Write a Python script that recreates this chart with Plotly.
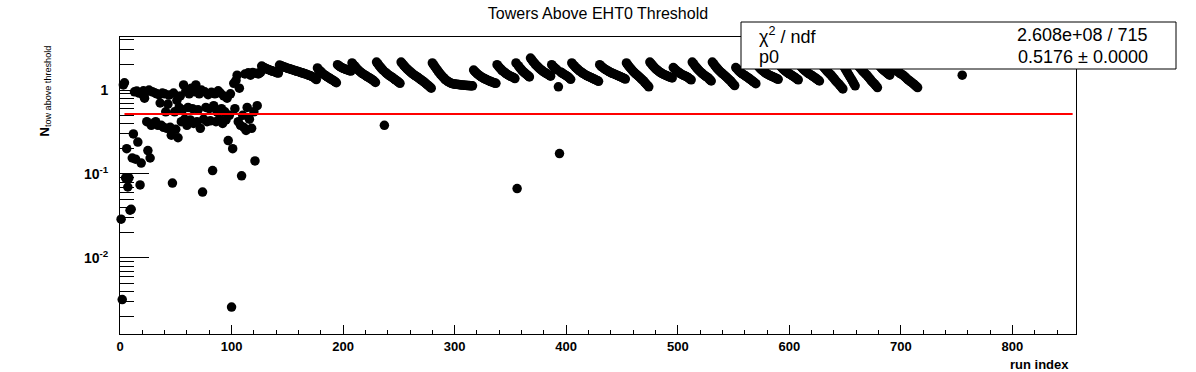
import plotly.graph_objects as go

# ---------------- data ----------------
# early runs (run index 1..125), one value per run
early_runs = list(range(1, 126))
early_vals = [
    0.029, 0.0032, 1.15, 1.22, 0.09, 0.2, 0.07, 0.09, 0.037, 0.038,
    0.155, 0.3, 0.95, 0.15, 0.97, 0.24, 0.92, 0.074, 0.135, 0.9,
    0.98, 0.8, 0.95, 0.42, 0.19, 1.0, 0.155, 0.38, 0.95, 0.4,
    0.93, 0.42, 0.9, 0.38, 0.88, 0.7, 0.38, 0.92, 0.36, 0.9,
    0.55, 0.35, 0.68, 0.87, 0.36, 0.29, 0.078, 0.92, 0.55, 0.34,
    0.75, 0.27, 0.62, 0.85, 0.42, 0.58, 1.15, 0.45, 0.97, 0.38,
    0.62, 0.9, 0.44, 1.05, 0.6, 0.4, 0.95, 1.15, 0.42, 0.58,
    0.9, 0.35, 1.0, 0.061, 0.45, 0.95, 0.62, 0.42, 0.88, 0.6,
    0.43, 0.94, 0.11, 0.65, 0.9, 0.42, 0.55, 0.98, 0.45, 0.92,
    0.6, 0.4, 0.85, 0.55, 0.44, 0.8, 0.25, 0.5, 0.9, 0.0026,
    0.2, 1.2, 0.6, 1.3, 1.5, 0.42, 1.05, 0.38, 0.095, 0.5,
    0.36, 1.55, 0.33, 0.62, 1.6, 0.45, 1.5, 0.35, 1.62, 0.55,
    0.143, 1.58, 0.65, 1.55, 1.6,
]

# later runs grouped by fill: first run index of each fill and its values
fill_start = [126, 143, 177, 195, 208, 230, 252, 280, 317, 338, 355, 368, 387,
              405, 430, 454, 475, 496, 513, 531, 552, 571, 591, 609, 628, 649,
              660, 680, 691]
fill_vals = [
    [1.62, 1.93, 1.88, 1.85, 1.82, 1.8, 1.77, 1.75, 1.73, 1.71, 1.69, 1.67, 1.66, 1.64, 1.62, 1.6, 1.59],
    [1.98, 1.95, 1.93, 1.9, 1.88, 1.86, 1.84, 1.82, 1.8, 1.79, 1.77, 1.75, 1.73, 1.72, 1.7, 1.68, 1.67,
     1.65, 1.64, 1.62, 1.6, 1.59, 1.57, 1.56, 1.54, 1.52, 1.5, 1.49, 1.47, 1.45, 1.43, 1.4, 1.37, 1.33],
    [1.83, 1.76, 1.7, 1.65, 1.6, 1.56, 1.52, 1.49, 1.46, 1.43, 1.4, 1.38, 1.35, 1.33, 1.3, 1.28, 1.25, 1.22],
    [2.0, 1.95, 1.91, 1.87, 1.84, 1.81, 1.79, 1.77, 1.75, 1.73, 1.71, 1.7, 1.68],
    [2.1, 2.02, 1.95, 1.88, 1.82, 1.76, 1.71, 1.66, 1.62, 1.58, 1.55, 1.52, 1.49, 1.46, 1.43, 1.41, 1.38,
     1.36, 1.33, 1.3, 1.27, 1.23],
    [2.15, 2.06, 1.98, 1.9, 1.83, 1.77, 1.71, 0.38, 1.62, 1.58, 1.54, 1.5, 1.47, 1.44, 1.41, 1.38, 1.35,
     1.32, 1.29, 1.26, 1.23, 1.2],
    [2.15, 2.07, 1.99, 1.92, 1.86, 1.8, 1.75, 1.7, 1.65, 1.61, 1.57, 1.53, 1.5, 1.47, 1.44, 1.41, 1.38,
     1.35, 1.32, 1.29, 1.26, 1.23, 1.2, 1.17, 1.14, 1.11, 1.08, 1.05],
    [2.1, 2.0, 1.92, 1.84, 1.76, 1.69, 1.62, 1.56, 1.5, 1.45, 1.4, 1.36, 1.32, 1.29, 1.26, 1.24, 1.22,
     1.2, 1.19, 1.18, 1.18, 1.17, 1.17, 1.16, 1.16, 1.15, 1.15, 1.15, 1.14, 1.14, 1.14, 1.13, 1.13,
     1.13, 1.12, 1.12, 1.12],
    [1.73, 1.67, 1.62, 1.57, 1.53, 1.49, 1.46, 1.43, 1.4, 1.38, 1.36, 1.34, 1.32, 1.3, 1.28, 1.27,
     1.25, 1.24, 1.22, 1.21, 1.2],
    [2.0, 1.93, 1.86, 1.8, 1.74, 1.69, 1.65, 1.61, 1.57, 1.54, 1.51, 1.48, 1.46, 1.44, 1.42, 1.4, 1.37],
    [2.1, 0.067, 1.95, 1.87, 1.8, 1.74, 1.68, 1.63, 1.59, 1.55, 1.51, 1.47, 1.43],
    [2.4, 2.3, 2.21, 2.13, 2.05, 1.98, 1.92, 1.86, 1.81, 1.76, 1.72, 1.68, 1.64, 1.61, 1.58, 1.55,
     1.52, 1.49, 1.46],
    [2.0, 1.93, 1.87, 1.82, 1.77, 1.73, 1.09, 0.175, 1.64, 1.6, 1.57, 1.54, 1.51, 1.48, 1.45, 1.42, 1.38, 1.34],
    [2.1, 2.02, 1.95, 1.89, 1.83, 1.78, 1.73, 1.69, 1.65, 1.61, 1.58, 1.55, 1.52, 1.49, 1.47, 1.45, 1.43,
     1.41, 1.39, 1.37, 1.35, 1.33, 1.31, 1.29, 1.27],
    [2.0, 1.94, 1.89, 1.84, 1.8, 1.76, 1.73, 1.7, 1.67, 1.64, 1.61, 1.59, 1.57, 1.55, 1.53, 1.51, 1.49,
     1.47, 1.45, 1.43, 1.41, 1.39, 1.37, 1.35],
    [2.1, 2.01, 1.93, 1.86, 1.79, 1.73, 1.67, 1.62, 1.57, 1.53, 1.49, 1.45, 1.41, 1.37, 1.33, 1.29, 1.25,
     1.21, 1.17, 1.13, 1.09],
    [2.15, 2.07, 1.99, 1.92, 1.86, 1.8, 1.75, 1.71, 1.67, 1.63, 1.6, 1.57, 1.54, 1.52, 1.5, 1.48,
     1.46, 1.44, 1.42, 1.41, 1.39],
    [1.85, 1.79, 1.74, 1.69, 1.65, 1.61, 1.58, 1.55, 1.52, 1.5, 1.48, 1.46, 1.44, 1.41, 1.38, 1.35, 1.32],
    [2.15, 2.06, 1.98, 1.9, 1.83, 1.77, 1.71, 1.66, 1.61, 1.57, 1.53, 1.49, 1.46, 1.43, 1.4, 1.36,
     1.32, 1.28],
    [2.15, 2.06, 1.98, 1.9, 1.83, 1.77, 1.71, 1.66, 1.61, 1.57, 1.53, 1.49, 1.45, 1.41, 1.37, 1.33,
     1.29, 1.25, 1.21, 1.17, 1.13],
    [1.85, 1.79, 1.73, 1.68, 1.63, 1.59, 1.55, 1.52, 1.49, 1.46, 1.43, 1.4, 1.37, 1.34, 1.31, 1.28, 1.25,
     1.22, 1.19],
    [2.0, 1.93, 1.86, 1.8, 1.75, 1.7, 1.66, 1.62, 1.59, 1.56, 1.53, 1.5, 1.48, 1.46, 1.44, 1.42,
     1.4, 1.38, 1.36, 1.34],
    [2.0, 1.93, 1.86, 1.8, 1.75, 1.7, 1.66, 1.62, 1.59, 1.56, 1.53, 1.5, 1.47, 1.44, 1.41, 1.38,
     1.35, 1.32],
    [2.0, 1.93, 1.86, 1.8, 1.75, 1.7, 1.66, 1.62, 1.58, 1.55, 1.52, 1.49, 1.46, 1.43, 1.4, 1.37,
     1.34, 1.31, 1.28],
    [2.1, 2.01, 1.93, 1.86, 1.79, 1.73, 1.67, 1.62, 1.57, 1.52, 1.47, 1.42, 1.37, 1.32, 1.27, 1.23,
     1.19, 1.15, 1.11, 1.07, 1.03],
    [1.9, 1.8, 1.71, 1.62, 1.54, 1.46, 1.39, 1.32, 1.25, 1.18, 1.12],
    [2.1, 2.01, 1.93, 1.86, 1.79, 1.73, 1.67, 1.62, 1.57, 1.52, 1.47, 1.42, 1.37, 1.32, 1.27, 1.23,
     1.19, 1.15, 1.11, 1.07],
    [2.0, 1.93, 1.86, 1.8, 1.75, 1.7, 1.66, 1.62, 1.58, 1.54, 1.5],
    [2.0, 1.93, 1.87, 1.81, 1.76, 1.71, 1.67, 1.63, 1.59, 1.56, 1.53, 1.5, 1.46, 1.42, 1.38, 1.34, 1.31,
     1.28, 1.25, 1.22, 1.19, 1.16, 1.13, 1.1, 1.07],
]

# isolated late run
late_runs = [755]
late_vals = [1.5]

# fit result
fit_p0 = 0.5176
fit_range = [4, 854]
chi2_text = "2.608e+08 / 715"
p0_text = "0.5176 \u00b1 0.0000"

# ---------------- assemble ----------------
runs = list(early_runs)
vals = list(early_vals)
for s, fv in zip(fill_start, fill_vals):
    runs += list(range(s, s + len(fv)))
    vals += fv
runs += late_runs
vals += late_vals

# ---------------- geometry helpers (screen pixels) ----------------
W, H = 1196, 372
L, R, T, B = 120, 1076, 37, 334
pw, ph = R - L, B - T


def px(x):
    return (x - L) / pw


def py(y):
    return (B - y) / ph


FONT = "Liberation Sans, Arial, Helvetica, sans-serif"

fig = go.Figure()
fig.add_trace(go.Scatter(
    x=runs, y=vals, mode="markers", cliponaxis=False,
    marker=dict(symbol="circle", size=9.5, color="black", line=dict(width=0)),
    showlegend=False, hoverinfo="x+y",
))
fig.add_trace(go.Scatter(
    x=fit_range, y=[fit_p0, fit_p0], mode="lines",
    line=dict(color="#ff0000", width=2), showlegend=False,
))

minor_vals = []
for dec in [0.001, 0.01, 0.1, 1.0]:
    for m in range(2, 10):
        minor_vals.append(m * dec)
major_vals = [0.01, 0.1, 1.0]

fig.update_layout(
    width=W, height=H, autosize=False,
    margin=dict(l=L, r=W - R, t=T, b=H - B, pad=0),
    paper_bgcolor="white", plot_bgcolor="white",
    font=dict(family=FONT, color="black"),
    title=dict(text="Towers Above EHT0 Threshold", x=598 / W, xanchor="center",
               y=1 - 13 / H, yanchor="middle", font=dict(size=16, family=FONT)),
    xaxis=dict(range=[0, 857], showgrid=False, zeroline=False,
               showline=True, linecolor="black", linewidth=1, mirror=True,
               ticks="inside", ticklen=9, tickcolor="black", tickwidth=1,
               dtick=100, tick0=0,
               tickfont=dict(size=13, family=FONT, weight="bold"),
               minor=dict(dtick=20, tick0=0, ticks="inside", ticklen=4,
                          tickcolor="black", showgrid=False)),
    yaxis=dict(type="log", range=[-2.905, 0.631], showgrid=False, zeroline=False,
               showline=True, linecolor="black", linewidth=1, mirror=True,
               ticks="inside", ticklen=29, tickcolor="black", tickwidth=1,
               tickmode="array", tickvals=major_vals,
               ticktext=["10<sup>-2</sup>", "10<sup>-1</sup>", "1"],
               ticklabelstandoff=8,
               tickfont=dict(size=14, family=FONT, weight="bold")),
    yaxis2=dict(type="log", range=[-2.905, 0.631], overlaying="y", side="left",
                showgrid=False, zeroline=False, showline=False,
                ticks="inside", ticklen=14, tickcolor="black", tickwidth=1,
                tickmode="array", tickvals=minor_vals, showticklabels=False),
)

# dummy invisible trace on yaxis2 so its minor ticks are drawn
fig.add_trace(go.Scatter(x=[None], y=[None], yaxis="y2", showlegend=False, hoverinfo="skip"))

# stats box
fig.add_shape(type="rect", xref="paper", yref="paper",
              x0=px(741), x1=px(1176), y0=py(69), y1=py(22),
              fillcolor="white", line=dict(color="black", width=1), layer="above")
stat_font = dict(size=18, family=FONT, color="black")
fig.add_annotation(xref="paper", yref="paper", x=px(757), y=py(35), xanchor="left",
                   yanchor="middle", text="\u03c7<sup>2</sup> / ndf", showarrow=False, font=stat_font)
fig.add_annotation(xref="paper", yref="paper", x=px(757), y=py(57), xanchor="left",
                   yanchor="middle", text="p0", showarrow=False, font=stat_font)
fig.add_annotation(xref="paper", yref="paper", x=px(1150), y=py(35), xanchor="right",
                   yanchor="middle", text=chi2_text, showarrow=False, font=stat_font)
fig.add_annotation(xref="paper", yref="paper", x=px(1150), y=py(57), xanchor="right",
                   yanchor="middle", text=p0_text, showarrow=False, font=stat_font)

# axis titles (ROOT style: right/top aligned)
fig.add_annotation(xref="paper", yref="paper", x=px(1071), y=py(364), xanchor="right",
                   yanchor="middle", text="<b>run index</b>", showarrow=False,
                   font=dict(size=13, family=FONT))
fig.add_annotation(xref="paper", yref="paper", x=px(45), y=py(44), xanchor="center",
                   yanchor="top", textangle=-90,
                   text="<b>N</b><sub>tow above threshold</sub>", showarrow=False,
                   font=dict(size=13, family=FONT))

# remove the default 8px page margin so the figure fills the window exactly
fig.write_html("out.html", config={"displayModeBar": False},
               post_script="document.body.style.margin='0px';")
